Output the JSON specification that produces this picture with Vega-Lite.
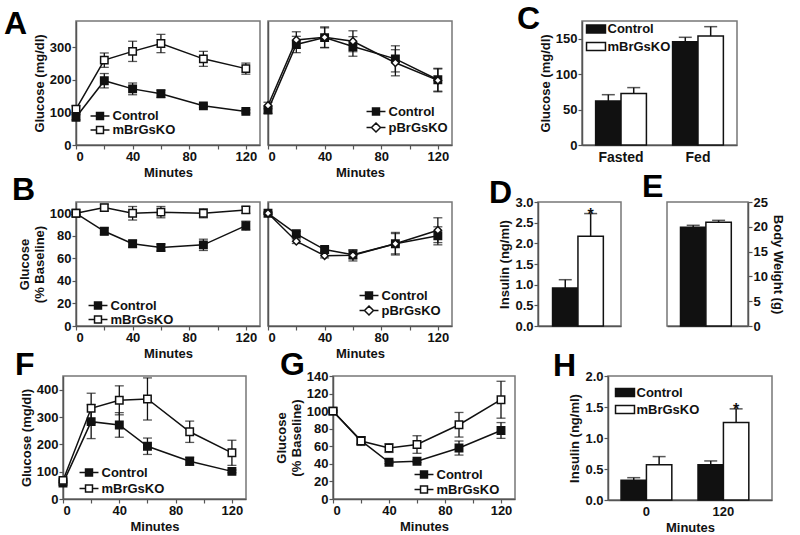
{
  "$schema": "https://vega.github.io/schema/vega-lite/v6.json",
  "padding": {"top": 1, "left": 0, "right": 0, "bottom": 0},
  "autosize": {"type": "pad"},
  "background": "white",
  "spacing": -46.3,
  "bounds": "full",
  "resolve": {"scale": {"fill": "independent", "shape": "independent"}, "legend": {"fill": "independent", "shape": "independent"}},
  "config": {
    "font": "Liberation Sans",
    "view": {"stroke": "#777", "strokeWidth": 1.5},
    "axis": {"labelFontWeight": "bold", "labelFontSize": 13, "labelColor": "#111", "titleFontWeight": "bold", "titleFontSize": 13, "titleColor": "#111", "domainColor": "#555", "domainWidth": 1.5, "tickColor": "#555", "tickWidth": 1.2, "tickSize": 4, "grid": false, "labelPadding": 1, "titlePadding": 3},
    "legend": {"labelFontWeight": "bold", "labelFontSize": 13, "labelColor": "#111", "symbolSize": 144, "symbolStrokeWidth": 1.5, "symbolStrokeColor": "#111", "symbolOpacity": 1, "labelOffset": 5.5, "rowPadding": 0, "padding": 0},
    "title": {"fontSize": 32, "fontWeight": "bold", "anchor": "start", "baseline": "alphabetic", "offset": 0, "frame": "group", "color": "#000"}
  },
  "datasets": {
    "A1": [
      {"min": 0, "grp": "Control", "val": 85, "err": 8}, {"min": 20, "grp": "Control", "val": 197, "err": 22}, {"min": 40, "grp": "Control", "val": 172, "err": 18}, {"min": 60, "grp": "Control", "val": 157, "err": 11}, {"min": 90, "grp": "Control", "val": 120, "err": 5}, {"min": 120, "grp": "Control", "val": 103, "err": 5},
      {"min": 0, "grp": "mBrGsKO", "val": 110, "err": 10}, {"min": 20, "grp": "mBrGsKO", "val": 260, "err": 22}, {"min": 40, "grp": "mBrGsKO", "val": 287, "err": 31}, {"min": 60, "grp": "mBrGsKO", "val": 311, "err": 28}, {"min": 90, "grp": "mBrGsKO", "val": 264, "err": 23}, {"min": 120, "grp": "mBrGsKO", "val": 234, "err": 17}
    ],
    "A2": [
      {"min": 0, "grp": "Control", "val": 107, "err": 10}, {"min": 20, "grp": "Control", "val": 308, "err": 25}, {"min": 40, "grp": "Control", "val": 329, "err": 30}, {"min": 60, "grp": "Control", "val": 302, "err": 30}, {"min": 90, "grp": "Control", "val": 264, "err": 40}, {"min": 120, "grp": "Control", "val": 200, "err": 35},
      {"min": 0, "grp": "pBrGsKO", "val": 121, "err": 10}, {"min": 20, "grp": "pBrGsKO", "val": 322, "err": 25}, {"min": 40, "grp": "pBrGsKO", "val": 330, "err": 32}, {"min": 60, "grp": "pBrGsKO", "val": 318, "err": 32}, {"min": 90, "grp": "pBrGsKO", "val": 252, "err": 40}, {"min": 120, "grp": "pBrGsKO", "val": 198, "err": 35}
    ],
    "B1": [
      {"min": 0, "grp": "Control", "val": 100, "err": 1}, {"min": 20, "grp": "Control", "val": 84, "err": 3}, {"min": 40, "grp": "Control", "val": 73, "err": 3}, {"min": 60, "grp": "Control", "val": 69.6, "err": 3}, {"min": 90, "grp": "Control", "val": 72, "err": 5}, {"min": 120, "grp": "Control", "val": 89, "err": 4},
      {"min": 0, "grp": "mBrGsKO", "val": 100, "err": 1}, {"min": 20, "grp": "mBrGsKO", "val": 105, "err": 3}, {"min": 40, "grp": "mBrGsKO", "val": 100, "err": 6}, {"min": 60, "grp": "mBrGsKO", "val": 101, "err": 5}, {"min": 90, "grp": "mBrGsKO", "val": 100, "err": 4}, {"min": 120, "grp": "mBrGsKO", "val": 103, "err": 3}
    ],
    "B2": [
      {"min": 0, "grp": "Control", "val": 100, "err": 1}, {"min": 20, "grp": "Control", "val": 81.8, "err": 2}, {"min": 40, "grp": "Control", "val": 67.8, "err": 2}, {"min": 60, "grp": "Control", "val": 63.3, "err": 4}, {"min": 90, "grp": "Control", "val": 73, "err": 9}, {"min": 120, "grp": "Control", "val": 80, "err": 8},
      {"min": 0, "grp": "pBrGsKO", "val": 100, "err": 1}, {"min": 20, "grp": "pBrGsKO", "val": 75.2, "err": 2}, {"min": 40, "grp": "pBrGsKO", "val": 62.4, "err": 2}, {"min": 60, "grp": "pBrGsKO", "val": 62.7, "err": 5}, {"min": 90, "grp": "pBrGsKO", "val": 73, "err": 10}, {"min": 120, "grp": "pBrGsKO", "val": 85, "err": 11}
    ],
    "F": [
      {"min": 0, "grp": "Control", "val": 58, "err": 8}, {"min": 20, "grp": "Control", "val": 283, "err": 62}, {"min": 40, "grp": "Control", "val": 271, "err": 45}, {"min": 60, "grp": "Control", "val": 193, "err": 30}, {"min": 90, "grp": "Control", "val": 138, "err": 15}, {"min": 120, "grp": "Control", "val": 101, "err": 5},
      {"min": 0, "grp": "mBrGsKO", "val": 68, "err": 8}, {"min": 20, "grp": "mBrGsKO", "val": 332, "err": 55}, {"min": 40, "grp": "mBrGsKO", "val": 361, "err": 53}, {"min": 60, "grp": "mBrGsKO", "val": 366, "err": 77}, {"min": 90, "grp": "mBrGsKO", "val": 246, "err": 39}, {"min": 120, "grp": "mBrGsKO", "val": 169, "err": 46}
    ],
    "G": [
      {"min": 0, "grp": "Control", "val": 100, "err": 1}, {"min": 20, "grp": "Control", "val": 66.5, "err": 4}, {"min": 40, "grp": "Control", "val": 41.8, "err": 1.5}, {"min": 60, "grp": "Control", "val": 43, "err": 1.5}, {"min": 90, "grp": "Control", "val": 58, "err": 8}, {"min": 120, "grp": "Control", "val": 78, "err": 9},
      {"min": 0, "grp": "mBrGsKO", "val": 100, "err": 1}, {"min": 20, "grp": "mBrGsKO", "val": 66, "err": 5}, {"min": 40, "grp": "mBrGsKO", "val": 58, "err": 5}, {"min": 60, "grp": "mBrGsKO", "val": 62, "err": 10}, {"min": 90, "grp": "mBrGsKO", "val": 84.5, "err": 14}, {"min": 120, "grp": "mBrGsKO", "val": 113, "err": 21}
    ],
    "C": [
      {"cat": "Fasted", "grp": "Control", "val": 62, "hi": 71}, {"cat": "Fasted", "grp": "mBrGsKO", "val": 72.6, "hi": 81},
      {"cat": "Fed", "grp": "Control", "val": 145.7, "hi": 152}, {"cat": "Fed", "grp": "mBrGsKO", "val": 153.8, "hi": 167}
    ],
    "D": [
      {"cat": "all", "grp": "Control", "val": 0.92, "hi": 1.12, "sig": ""}, {"cat": "all", "grp": "mBrGsKO", "val": 2.17, "hi": 2.72, "sig": "*"}
    ],
    "E": [
      {"cat": "all", "grp": "Control", "val": 19.9, "hi": 20.3}, {"cat": "all", "grp": "mBrGsKO", "val": 20.9, "hi": 21.3}
    ],
    "H": [
      {"cat": "0", "grp": "Control", "val": 0.32, "hi": 0.36, "sig": ""}, {"cat": "0", "grp": "mBrGsKO", "val": 0.57, "hi": 0.70, "sig": ""},
      {"cat": "120", "grp": "Control", "val": 0.57, "hi": 0.63, "sig": ""}, {"cat": "120", "grp": "mBrGsKO", "val": 1.25, "hi": 1.47, "sig": "*"}
    ]
  },
  "vconcat": [
    {
      "hconcat": [
        {"width": 76, "height": 180.5, "data": {"values": [{}]}, "mark": {"type": "point", "opacity": 0}, "view": {"stroke": null}},
        {
          "width": 184, "height": 124, "data": {"name": "A1"},
          "title": {"text": "A", "dx": -72, "dy": 23.5},
          "encoding": {
            "x": {"field": "min", "type": "quantitative", "scale": {"domain": [0, 130], "nice": false}, "axis": {"title": "Minutes", "values": [0, 20, 40, 60, 80, 100, 120], "labelExpr": "datum.value % 40 === 0 ? datum.label : ''"}},
            "y": {"field": "val", "type": "quantitative", "scale": {"domain": [0, 380], "nice": false}, "axis": {"title": "Glucose (mg/dl)", "values": [0, 100, 200, 300]}}
          },
          "layer": [
            {"mark": {"type": "errorbar", "ticks": {"size": 9}, "thickness": 1.3, "color": "#111"}, "encoding": {"yError": {"field": "err"}}},
            {"mark": {"type": "line", "color": "#111", "strokeWidth": 1.5}, "encoding": {"detail": {"field": "grp"}}},
            {"mark": {"type": "point", "opacity": 0, "filled": false, "color": "#111", "strokeWidth": 1.5}, "encoding": {
              "shape": {"field": "grp", "type": "nominal", "scale": {"domain": ["Control", "mBrGsKO"], "range": ["M-1.58,0H-0.58M0.58,0H1.58M-0.58,-0.58H0.58V0.58H-0.58ZM-0.58,-0.33H0.58M-0.58,-0.08H0.58M-0.58,0.17H0.58M-0.58,0.42H0.58", "M-1.58,0H-0.58M0.58,0H1.58M-0.58,-0.58H0.58V0.58H-0.58Z"]}, "legend": {"title": null, "orient": "none", "legendX": 17, "legendY": 88}}}},
            {"mark": {"type": "point", "opacity": 1, "stroke": "#111", "strokeWidth": 1.5, "size": 55}, "encoding": {
              "shape": {"field": "grp", "type": "nominal", "scale": {"domain": ["Control", "mBrGsKO"], "range": ["square", "square"]}, "legend": null},
              "fill": {"field": "grp", "type": "nominal", "scale": {"domain": ["Control", "mBrGsKO"], "range": ["#111", "#fff"]}, "legend": null}}}
          ],
          "resolve": {"scale": {"shape": "independent", "fill": "independent"}}
        },
        {"width": 8, "height": 1, "data": {"values": [{}]}, "mark": {"type": "point", "opacity": 0}, "view": {"stroke": null}},
        {
          "width": 184, "height": 124, "data": {"name": "A2"},
          "encoding": {
            "x": {"field": "min", "type": "quantitative", "scale": {"domain": [0, 130], "nice": false}, "axis": {"title": "Minutes", "values": [0, 20, 40, 60, 80, 100, 120], "labelExpr": "datum.value % 40 === 0 ? datum.label : ''"}},
            "y": {"field": "val", "type": "quantitative", "scale": {"domain": [0, 380], "nice": false}, "axis": {"title": null, "labels": false, "ticks": false}}
          },
          "layer": [
            {"mark": {"type": "errorbar", "ticks": {"size": 9}, "thickness": 1.3, "color": "#111"}, "encoding": {"yError": {"field": "err"}}},
            {"mark": {"type": "line", "color": "#111", "strokeWidth": 1.5}, "encoding": {"detail": {"field": "grp"}}},
            {"mark": {"type": "point", "opacity": 0, "filled": false, "color": "#111", "strokeWidth": 1.5}, "encoding": {
              "shape": {"field": "grp", "type": "nominal", "scale": {"domain": ["Control", "pBrGsKO"], "range": ["M-1.58,0H-0.58M0.58,0H1.58M-0.58,-0.58H0.58V0.58H-0.58ZM-0.58,-0.33H0.58M-0.58,-0.08H0.58M-0.58,0.17H0.58M-0.58,0.42H0.58", "M-1.58,0H-0.75M0.75,0H1.58M0,-0.75L0.75,0L0,0.75L-0.75,0Z"]}, "legend": {"title": null, "orient": "none", "legendX": 101, "legendY": 83.5, "rowPadding": 1}}}},
            {"mark": {"type": "point", "opacity": 1, "stroke": "#111", "strokeWidth": 1.5, "size": 55}, "encoding": {
              "shape": {"field": "grp", "type": "nominal", "scale": {"domain": ["Control", "pBrGsKO"], "range": ["square", "diamond"]}, "legend": null},
              "fill": {"field": "grp", "type": "nominal", "scale": {"domain": ["Control", "pBrGsKO"], "range": ["#111", "#fff"]}, "legend": null}}}
          ],
          "resolve": {"scale": {"shape": "independent", "fill": "independent"}}
        },
        {"width": 130, "height": 1, "data": {"values": [{}]}, "mark": {"type": "point", "opacity": 0}, "view": {"stroke": null}},
        {
          "width": 155, "height": 124, "data": {"name": "C"},
          "title": {"text": "C", "dx": -65, "dy": 18.5},
          "encoding": {
            "x": {"field": "cat", "type": "nominal", "sort": ["Fasted", "Fed"], "scale": {"paddingInner": 0.34, "paddingOuter": 0.177}, "axis": {"title": null, "labelAngle": 0, "ticks": false, "labelFontSize": 14, "labelPadding": 5}},
            "xOffset": {"field": "grp", "type": "nominal", "sort": ["Control", "mBrGsKO"], "scale": {"paddingInner": 0, "paddingOuter": 0}},
            "y": {"field": "val", "type": "quantitative", "scale": {"domain": [0, 175], "nice": false}, "axis": {"title": "Glucose (mg/dl)", "values": [0, 50, 100, 150]}}
          },
          "layer": [
            {"mark": {"type": "rule", "color": "#111", "strokeWidth": 1.5}, "encoding": {"y2": {"field": "hi"}}},
            {"mark": {"type": "tick", "color": "#111", "thickness": 1.5, "size": 13}, "encoding": {"y": {"field": "hi", "type": "quantitative", "axis": {"title": "Glucose (mg/dl)", "values": [0, 50, 100, 150]}}}},
            {"mark": {"type": "bar", "stroke": "#111", "strokeWidth": 1.5}, "encoding": {"fill": {"field": "grp", "type": "nominal", "scale": {"domain": ["Control", "mBrGsKO"], "range": ["#111", "#fff"]}, "legend": {"title": null, "orient": "none", "legendX": 7, "legendY": 1, "rowPadding": 1.5, "labelOffset": 4.5, "symbolType": "M-1.58,-0.67H1.58V0.67H-1.58Z"}}}}
          ],
          "resolve": {"scale": {"fill": "independent"}}
        }
      ],
      "spacing": 0,
      "bounds": "flush",
      "resolve": {"scale": {"fill": "independent", "shape": "independent"}, "legend": {"fill": "independent", "shape": "independent"}}
    },
    {
      "hconcat": [
        {"width": 76, "height": 174, "data": {"values": [{}]}, "mark": {"type": "point", "opacity": 0}, "view": {"stroke": null}},
        {
          "width": 184, "height": 124, "data": {"name": "B1"},
          "title": {"text": "B", "dx": -64, "dy": 10},
          "encoding": {
            "x": {"field": "min", "type": "quantitative", "scale": {"domain": [0, 130], "nice": false}, "axis": {"title": "Minutes", "values": [0, 20, 40, 60, 80, 100, 120], "labelExpr": "datum.value % 40 === 0 ? datum.label : ''"}},
            "y": {"field": "val", "type": "quantitative", "scale": {"domain": [0, 110], "nice": false}, "axis": {"title": ["Glucose", "(% Baseline)"], "values": [0, 20, 40, 60, 80, 100]}}
          },
          "layer": [
            {"mark": {"type": "errorbar", "ticks": {"size": 9}, "thickness": 1.3, "color": "#111"}, "encoding": {"yError": {"field": "err"}}},
            {"mark": {"type": "line", "color": "#111", "strokeWidth": 1.5}, "encoding": {"detail": {"field": "grp"}}},
            {"mark": {"type": "point", "opacity": 0, "filled": false, "color": "#111", "strokeWidth": 1.5}, "encoding": {
              "shape": {"field": "grp", "type": "nominal", "scale": {"domain": ["Control", "mBrGsKO"], "range": ["M-1.58,0H-0.58M0.58,0H1.58M-0.58,-0.58H0.58V0.58H-0.58ZM-0.58,-0.33H0.58M-0.58,-0.08H0.58M-0.58,0.17H0.58M-0.58,0.42H0.58", "M-1.58,0H-0.58M0.58,0H1.58M-0.58,-0.58H0.58V0.58H-0.58Z"]}, "legend": {"title": null, "orient": "none", "legendX": 15, "legendY": 96.5}}}},
            {"mark": {"type": "point", "opacity": 1, "stroke": "#111", "strokeWidth": 1.5, "size": 55}, "encoding": {
              "shape": {"field": "grp", "type": "nominal", "scale": {"domain": ["Control", "mBrGsKO"], "range": ["square", "square"]}, "legend": null},
              "fill": {"field": "grp", "type": "nominal", "scale": {"domain": ["Control", "mBrGsKO"], "range": ["#111", "#fff"]}, "legend": null}}}
          ],
          "resolve": {"scale": {"shape": "independent", "fill": "independent"}}
        },
        {"width": 8, "height": 1, "data": {"values": [{}]}, "mark": {"type": "point", "opacity": 0}, "view": {"stroke": null}},
        {
          "width": 184, "height": 124, "data": {"name": "B2"},
          "encoding": {
            "x": {"field": "min", "type": "quantitative", "scale": {"domain": [0, 130], "nice": false}, "axis": {"title": "Minutes", "values": [0, 20, 40, 60, 80, 100, 120], "labelExpr": "datum.value % 40 === 0 ? datum.label : ''"}},
            "y": {"field": "val", "type": "quantitative", "scale": {"domain": [0, 110], "nice": false}, "axis": {"title": null, "labels": false, "ticks": false}}
          },
          "layer": [
            {"mark": {"type": "errorbar", "ticks": {"size": 9}, "thickness": 1.3, "color": "#111"}, "encoding": {"yError": {"field": "err"}}},
            {"mark": {"type": "line", "color": "#111", "strokeWidth": 1.5}, "encoding": {"detail": {"field": "grp"}}},
            {"mark": {"type": "point", "opacity": 0, "filled": false, "color": "#111", "strokeWidth": 1.5}, "encoding": {
              "shape": {"field": "grp", "type": "nominal", "scale": {"domain": ["Control", "pBrGsKO"], "range": ["M-1.58,0H-0.58M0.58,0H1.58M-0.58,-0.58H0.58V0.58H-0.58ZM-0.58,-0.33H0.58M-0.58,-0.08H0.58M-0.58,0.17H0.58M-0.58,0.42H0.58", "M-1.58,0H-0.75M0.75,0H1.58M0,-0.75L0.75,0L0,0.75L-0.75,0Z"]}, "legend": {"title": null, "orient": "none", "legendX": 94, "legendY": 86.5}}}},
            {"mark": {"type": "point", "opacity": 1, "stroke": "#111", "strokeWidth": 1.5, "size": 55}, "encoding": {
              "shape": {"field": "grp", "type": "nominal", "scale": {"domain": ["Control", "pBrGsKO"], "range": ["square", "diamond"]}, "legend": null},
              "fill": {"field": "grp", "type": "nominal", "scale": {"domain": ["Control", "pBrGsKO"], "range": ["#111", "#fff"]}, "legend": null}}}
          ],
          "resolve": {"scale": {"shape": "independent", "fill": "independent"}}
        },
        {"width": 86, "height": 1, "data": {"values": [{}]}, "mark": {"type": "point", "opacity": 0}, "view": {"stroke": null}},
        {
          "width": 83, "height": 124, "data": {"name": "D"},
          "title": {"text": "D", "dx": -49, "dy": 17.5},
          "encoding": {
            "x": {"field": "cat", "type": "nominal", "scale": {"paddingInner": 0, "paddingOuter": 0.27}, "axis": {"title": null, "labels": false, "ticks": false}},
            "xOffset": {"field": "grp", "type": "nominal", "sort": ["Control", "mBrGsKO"], "scale": {"paddingInner": 0, "paddingOuter": 0}},
            "y": {"field": "val", "type": "quantitative", "scale": {"domain": [0, 3], "nice": false}, "axis": {"title": "Insulin (ng/ml)", "values": [0, 0.5, 1, 1.5, 2, 2.5, 3], "format": ".1f"}}
          },
          "layer": [
            {"mark": {"type": "rule", "color": "#111", "strokeWidth": 1.5}, "encoding": {"y2": {"field": "hi"}}},
            {"mark": {"type": "tick", "color": "#111", "thickness": 1.5, "size": 13}, "encoding": {"y": {"field": "hi", "type": "quantitative", "axis": {"title": "Insulin (ng/ml)", "values": [0, 0.5, 1, 1.5, 2, 2.5, 3], "format": ".1f"}}}},
            {"mark": {"type": "bar", "stroke": "#111", "strokeWidth": 1.5}, "encoding": {"fill": {"field": "grp", "type": "nominal", "scale": {"domain": ["Control", "mBrGsKO"], "range": ["#111", "#fff"]}, "legend": null}}},
            {"mark": {"type": "text", "fontSize": 16, "fontWeight": "bold", "baseline": "alphabetic", "dy": 6, "color": "#111"}, "encoding": {"y": {"field": "hi", "type": "quantitative"}, "text": {"field": "sig"}}}
          ]
        },
        {"width": 46, "height": 1, "data": {"values": [{}]}, "mark": {"type": "point", "opacity": 0}, "view": {"stroke": null}},
        {
          "width": 81, "height": 124, "data": {"name": "E"},
          "title": {"text": "E", "dx": -25, "dy": 11.5},
          "encoding": {
            "x": {"field": "cat", "type": "nominal", "scale": {"paddingInner": 0, "paddingOuter": 0.25}, "axis": {"title": null, "labels": false, "ticks": false}},
            "xOffset": {"field": "grp", "type": "nominal", "sort": ["Control", "mBrGsKO"], "scale": {"paddingInner": 0, "paddingOuter": 0}},
            "y": {"field": "val", "type": "quantitative", "scale": {"domain": [0, 25], "nice": false}, "axis": {"orient": "right", "title": "Body Weight (g)", "values": [0, 5, 10, 15, 20, 25]}}
          },
          "layer": [
            {"mark": {"type": "rule", "color": "#111", "strokeWidth": 1.5}, "encoding": {"y2": {"field": "hi"}}},
            {"mark": {"type": "tick", "color": "#111", "thickness": 1.5, "size": 13}, "encoding": {"y": {"field": "hi", "type": "quantitative", "axis": {"orient": "right", "title": "Body Weight (g)", "values": [0, 5, 10, 15, 20, 25]}}}},
            {"mark": {"type": "bar", "stroke": "#111", "strokeWidth": 1.5}, "encoding": {"fill": {"field": "grp", "type": "nominal", "scale": {"domain": ["Control", "mBrGsKO"], "range": ["#111", "#fff"]}, "legend": null}}}
          ]
        }
      ],
      "spacing": 0,
      "bounds": "flush",
      "resolve": {"scale": {"fill": "independent", "shape": "independent"}, "legend": {"fill": "independent", "shape": "independent"}}
    },
    {
      "hconcat": [
        {"width": 63, "height": 1, "data": {"values": [{}]}, "mark": {"type": "point", "opacity": 0}, "view": {"stroke": null}},
        {
          "width": 183, "height": 123, "data": {"name": "F"},
          "title": {"text": "F", "dx": -48, "dy": 10},
          "encoding": {
            "x": {"field": "min", "type": "quantitative", "scale": {"domain": [0, 130], "nice": false}, "axis": {"title": "Minutes", "values": [0, 20, 40, 60, 80, 100, 120], "labelExpr": "datum.value % 40 === 0 ? datum.label : ''"}},
            "y": {"field": "val", "type": "quantitative", "scale": {"domain": [0, 450], "nice": false}, "axis": {"title": "Glucose (mg/dl)", "values": [0, 100, 200, 300, 400]}}
          },
          "layer": [
            {"mark": {"type": "errorbar", "ticks": {"size": 9}, "thickness": 1.3, "color": "#111"}, "encoding": {"yError": {"field": "err"}}},
            {"mark": {"type": "line", "color": "#111", "strokeWidth": 1.5}, "encoding": {"detail": {"field": "grp"}}},
            {"mark": {"type": "point", "opacity": 0, "filled": false, "color": "#111", "strokeWidth": 1.5}, "encoding": {
              "shape": {"field": "grp", "type": "nominal", "scale": {"domain": ["Control", "mBrGsKO"], "range": ["M-1.58,0H-0.58M0.58,0H1.58M-0.58,-0.58H0.58V0.58H-0.58ZM-0.58,-0.33H0.58M-0.58,-0.08H0.58M-0.58,0.17H0.58M-0.58,0.42H0.58", "M-1.58,0H-0.58M0.58,0H1.58M-0.58,-0.58H0.58V0.58H-0.58Z"]}, "legend": {"title": null, "orient": "none", "legendX": 19, "legendY": 89.5, "rowPadding": 2}}}},
            {"mark": {"type": "point", "opacity": 1, "stroke": "#111", "strokeWidth": 1.5, "size": 55}, "encoding": {
              "shape": {"field": "grp", "type": "nominal", "scale": {"domain": ["Control", "mBrGsKO"], "range": ["square", "square"]}, "legend": null},
              "fill": {"field": "grp", "type": "nominal", "scale": {"domain": ["Control", "mBrGsKO"], "range": ["#111", "#fff"]}, "legend": null}}}
          ],
          "resolve": {"scale": {"shape": "independent", "fill": "independent"}}
        },
        {"width": 87, "height": 1, "data": {"values": [{}]}, "mark": {"type": "point", "opacity": 0}, "view": {"stroke": null}},
        {
          "width": 182, "height": 123, "data": {"name": "G"},
          "title": {"text": "G", "dx": -53, "dy": 15.5},
          "encoding": {
            "x": {"field": "min", "type": "quantitative", "scale": {"domain": [0, 130], "nice": false}, "axis": {"title": "Minutes", "values": [0, 20, 40, 60, 80, 100, 120], "labelExpr": "datum.value % 40 === 0 ? datum.label : ''"}},
            "y": {"field": "val", "type": "quantitative", "scale": {"domain": [0, 140], "nice": false}, "axis": {"title": ["Glucose", "(% Baseline)"], "values": [0, 20, 40, 60, 80, 100, 120, 140]}}
          },
          "layer": [
            {"mark": {"type": "errorbar", "ticks": {"size": 9}, "thickness": 1.3, "color": "#111"}, "encoding": {"yError": {"field": "err"}}},
            {"mark": {"type": "line", "color": "#111", "strokeWidth": 1.5}, "encoding": {"detail": {"field": "grp"}}},
            {"mark": {"type": "point", "opacity": 0, "filled": false, "color": "#111", "strokeWidth": 1.5}, "encoding": {
              "shape": {"field": "grp", "type": "nominal", "scale": {"domain": ["Control", "mBrGsKO"], "range": ["M-1.58,0H-0.58M0.58,0H1.58M-0.58,-0.58H0.58V0.58H-0.58ZM-0.58,-0.33H0.58M-0.58,-0.08H0.58M-0.58,0.17H0.58M-0.58,0.42H0.58", "M-1.58,0H-0.58M0.58,0H1.58M-0.58,-0.58H0.58V0.58H-0.58Z"]}, "legend": {"title": null, "orient": "none", "legendX": 84, "legendY": 91.5, "rowPadding": 1}}}},
            {"mark": {"type": "point", "opacity": 1, "stroke": "#111", "strokeWidth": 1.5, "size": 55}, "encoding": {
              "shape": {"field": "grp", "type": "nominal", "scale": {"domain": ["Control", "mBrGsKO"], "range": ["square", "square"]}, "legend": null},
              "fill": {"field": "grp", "type": "nominal", "scale": {"domain": ["Control", "mBrGsKO"], "range": ["#111", "#fff"]}, "legend": null}}}
          ],
          "resolve": {"scale": {"shape": "independent", "fill": "independent"}}
        },
        {"width": 93, "height": 1, "data": {"values": [{}]}, "mark": {"type": "point", "opacity": 0}, "view": {"stroke": null}},
        {
          "width": 164, "height": 124, "data": {"name": "H"},
          "title": {"text": "H", "dx": -55, "dy": 16.5},
          "encoding": {
            "x": {"field": "cat", "type": "nominal", "sort": ["0", "120"], "scale": {"paddingInner": 0.34, "paddingOuter": 0.235, "align": 0.36}, "axis": {"title": "Minutes", "labelAngle": 0, "ticks": false, "labelPadding": 5}},
            "xOffset": {"field": "grp", "type": "nominal", "sort": ["Control", "mBrGsKO"], "scale": {"paddingInner": 0, "paddingOuter": 0}},
            "y": {"field": "val", "type": "quantitative", "scale": {"domain": [0, 2], "nice": false}, "axis": {"title": "Insulin (ng/ml)", "values": [0, 0.5, 1, 1.5, 2], "format": ".1f"}}
          },
          "layer": [
            {"mark": {"type": "rule", "color": "#111", "strokeWidth": 1.5}, "encoding": {"y2": {"field": "hi"}}},
            {"mark": {"type": "tick", "color": "#111", "thickness": 1.5, "size": 13}, "encoding": {"y": {"field": "hi", "type": "quantitative", "axis": {"title": "Insulin (ng/ml)", "values": [0, 0.5, 1, 1.5, 2], "format": ".1f"}}}},
            {"mark": {"type": "bar", "stroke": "#111", "strokeWidth": 1.5}, "encoding": {"fill": {"field": "grp", "type": "nominal", "scale": {"domain": ["Control", "mBrGsKO"], "range": ["#111", "#fff"]}, "legend": {"title": null, "orient": "none", "legendX": 10, "legendY": 9.5, "rowPadding": 1, "labelOffset": 4.5, "symbolType": "M-1.58,-0.67H1.58V0.67H-1.58Z"}}}},
            {"mark": {"type": "text", "fontSize": 16, "fontWeight": "bold", "baseline": "alphabetic", "dy": 6, "color": "#111"}, "encoding": {"y": {"field": "hi", "type": "quantitative"}, "text": {"field": "sig"}}}
          ],
          "resolve": {"scale": {"fill": "independent"}}
        }
      ],
      "spacing": 0,
      "bounds": "flush",
      "resolve": {"scale": {"fill": "independent", "shape": "independent"}, "legend": {"fill": "independent", "shape": "independent"}}
    }
  ]
}
